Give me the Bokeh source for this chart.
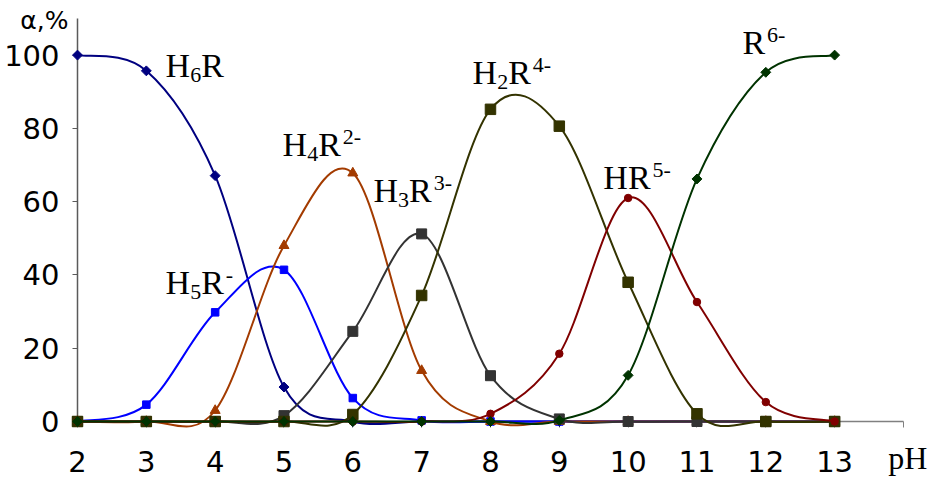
from bokeh.plotting import figure
from bokeh.models import FixedTicker, Label, Range1d
from bokeh.embed import file_html
from bokeh.resources import INLINE
import numpy as np

# ---------------- data ----------------
ph = [2, 3, 4, 5, 6, 7, 8, 9, 10, 11, 12, 13]
h6r = [100, 95.7, 67.1, 9.4, 0, 0, 0, 0, 0, 0, 0, 0]
h5r = [0, 4.6, 29.8, 41.4, 6.4, 0.3, 0, 0, 0, 0, 0, 0]
h4r = [0, 0, 3.0, 48.0, 67.8, 13.9, 0, 0, 0, 0, 0, 0]
h3r = [0, 0, 0, 1.6, 24.6, 51.2, 12.5, 0.7, 0, 0, 0, 0]
h2r = [0, 0, 0, 0, 1.9, 34.4, 85.2, 80.6, 38.0, 2.1, 0, 0]
hr = [0, 0, 0, 0, 0, 0, 2.1, 18.5, 61.0, 32.6, 5.3, 0]
r6 = [0, 0, 0, 0, 0, 0, 0, 0.3, 12.6, 66.2, 95.3, 100]

x_ticks = [2, 3, 4, 5, 6, 7, 8, 9, 10, 11, 12, 13, 14]
x_tick_labels = ["2", "3", "4", "5", "6", "7", "8", "9", "10", "11", "12", "13", ""]
y_ticks = [0, 20, 40, 60, 80, 100]
x_axis_span = (2, 14)
y_axis_span = (0, 110)
y_title = "α,%"
x_title = "pH"

# species labels: (text piece, kind) ; n = normal, sub = subscript, sup = superscript
lab_h6r = [("H", "n"), ("6", "sub"), ("R", "n")]
lab_h5r = [("H", "n"), ("5", "sub"), ("R", "n"), ("-", "sup")]
lab_h4r = [("H", "n"), ("4", "sub"), ("R", "n"), ("2-", "sup")]
lab_h3r = [("H", "n"), ("3", "sub"), ("R", "n"), ("3-", "sup")]
lab_h2r = [("H", "n"), ("2", "sub"), ("R", "n"), ("4-", "sup")]
lab_hr = [("HR", "n"), ("5-", "sup")]
lab_r6 = [("R", "n"), ("6-", "sup")]

# ---------------- figure ----------------
W, H = 933, 479
PX_X = 68.83   # pixels per pH unit
PX_Y = 3.664   # pixels per percent
X0_PX, Y0_PX = 77, 421   # pixel position of (pH 2, 0 %)
x_lo = 2 - X0_PX / PX_X
x_hi = 2 + (W - X0_PX) / PX_X
y_lo = -(H - Y0_PX) / PX_Y
y_hi = Y0_PX / PX_Y

p = figure(width=W, height=H, output_backend="svg", toolbar_location=None,
           x_range=Range1d(x_lo, x_hi), y_range=Range1d(y_lo, y_hi),
           min_border_left=0, min_border_right=0, min_border_top=0, min_border_bottom=0)
p.outline_line_color = None
p.xgrid.visible = False
p.ygrid.visible = False
p.background_fill_color = "white"
p.border_fill_color = "white"

xa = p.xaxis[0]
xa.fixed_location = 0
xa.bounds = x_axis_span
xa.ticker = FixedTicker(ticks=x_ticks)
xa.major_label_overrides = {t: l for t, l in zip(x_ticks, x_tick_labels)}
xa.minor_tick_line_color = None
xa.major_tick_in = 0
xa.major_tick_out = 6
xa.axis_line_color = "#808080"
xa.major_tick_line_color = "#808080"
xa.axis_line_width = 1.5
xa.major_label_text_font = "DejaVu Sans"
xa.major_label_text_font_size = "29px"
xa.major_label_text_color = "black"
xa.major_label_standoff = 23

ya = p.yaxis[0]
ya.fixed_location = 2
ya.bounds = y_axis_span
ya.ticker = FixedTicker(ticks=y_ticks)
ya.minor_tick_line_color = None
ya.major_tick_in = 0
ya.major_tick_out = 5
ya.axis_line_color = "#5a5a5a"
ya.major_tick_line_color = "#5a5a5a"
ya.axis_line_width = 1.5
ya.major_label_text_font = "DejaVu Sans"
ya.major_label_text_font_size = "29px"
ya.major_label_text_color = "black"
ya.major_label_standoff = 13


def smooth(xs, ys):
    n = len(xs)
    out = dict(x0=[], y0=[], x1=[], y1=[], cx0=[], cy0=[], cx1=[], cy1=[])
    for i in range(n - 1):
        xm, ym = (xs[i - 1], ys[i - 1]) if i > 0 else (xs[i], ys[i])
        xp, yp = (xs[i + 2], ys[i + 2]) if i + 2 < n else (xs[i + 1], ys[i + 1])
        out["x0"].append(xs[i]); out["y0"].append(ys[i])
        out["x1"].append(xs[i + 1]); out["y1"].append(ys[i + 1])
        out["cx0"].append(xs[i] + (xs[i + 1] - xm) / 6.0)
        out["cy0"].append(ys[i] + (ys[i + 1] - ym) / 6.0)
        out["cx1"].append(xs[i + 1] - (xp - xs[i]) / 6.0)
        out["cy1"].append(ys[i + 1] - (yp - ys[i]) / 6.0)
    return out


series = [
    (h6r, "#000080", "square", 7, np.pi / 4),
    (h5r, "#0000FF", "square", 7.5, 0),
    (h4r, "#A33B00", "triangle", 10, 0),
    (h3r, "#333333", "square", 10, 0),
    (h2r, "#333300", "square", 10.5, 0),
    (hr, "#800000", "circle", 7.5, 0),
    (r6, "#003300", "square", 7, np.pi / 4),
]

for vals, col, mk, sz, ang in series:
    b = smooth(ph, vals)
    p.bezier(x0=b["x0"], y0=b["y0"], x1=b["x1"], y1=b["y1"],
             cx0=b["cx0"], cy0=b["cy0"], cx1=b["cx1"], cy1=b["cy1"],
             line_color=col, line_width=2, level="overlay")
    p.scatter(ph, vals, marker=mk, size=sz, angle=ang, fill_color=col,
              line_color=col, level="overlay")

MAIN = 34
SMALL = 22
WID = {"H": 0.722, "R": 0.667, "-": 0.333}
DESC = 0.16   # baseline lies this fraction of the font size above a bottom-aligned label's anchor


def tw(s, fs):
    return sum(WID.get(c, 0.5) for c in s) * fs


def text_label(x, y, txt, font, fs, xo=0.0, yo=0.0):
    p.add_layout(Label(x=x, y=y, x_offset=xo, y_offset=yo - DESC * fs, text=txt,
                       text_font=font, text_font_size=f"{fs}px",
                       text_baseline="bottom", text_color="black"))


def chem(x, y, parts):
    off = 0.0
    for txt, kind in parts:
        if kind == "n":
            fs, yo = MAIN, 0
        elif kind == "sub":
            fs, yo = SMALL, 0
        else:
            fs, yo = SMALL, 17
            off += 2
        text_label(x, y, txt, "Liberation Serif", fs, off, yo)
        off += tw(txt, fs)


chem(3.28, 93.6, lab_h6r)
chem(3.28, 34.4, lab_h5r)
chem(4.98, 72.0, lab_h4r)
chem(6.30, 59.5, lab_h3r)
chem(7.74, 91.7, lab_h2r)
chem(9.64, 63.0, lab_hr)
chem(11.66, 99.9, lab_r6)

text_label(1.17, 106.6, y_title, "DejaVu Sans", 25)
text_label(13.78, -13.6, x_title, "Liberation Serif", 32)

open("out.html", "w").write(file_html(p, INLINE))
